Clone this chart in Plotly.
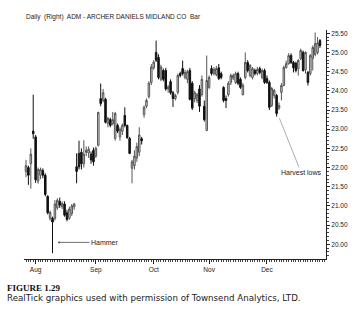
import plotly.graph_objects as go

# ---- data ----
month_names = ["Jul", "Aug", "Sep", "Oct", "Nov", "Dec"]
bars_in_month = [4, 25, 24, 23, 24, 23]

opens = [21.90, 22.00, 22.10, 22.95, 22.80, 21.65, 21.80, 21.92, 21.80, 21.25,
         20.68, 20.68, 20.68, 20.95, 21.12, 20.98, 21.05, 20.82, 20.68, 20.80,
         20.98, 22.02, 22.37, 22.40, 22.10, 22.40, 22.38, 22.35, 22.45, 22.30,
         22.58, 23.80, 23.75, 23.78, 23.15, 23.25, 23.15, 22.76, 23.10, 22.80,
         22.95, 23.36, 23.10, 22.76, 21.98, 22.05, 22.25, 22.40, 22.75, 23.38,
         23.60, 23.85, 24.22, 24.60, 25.00, 24.87, 24.30, 24.53, 24.53, 24.05,
         24.24, 23.95, 23.80, 23.96, 24.45, 24.58, 24.35, 24.30, 24.53, 24.20,
         23.80, 23.75, 24.05, 23.90, 23.60, 22.97, 24.09, 24.58, 24.45, 24.42,
         24.60, 24.45, 24.09, 23.80, 23.90, 24.22, 24.33, 24.22, 24.45, 24.30,
         23.90, 24.35, 24.74, 24.40, 24.35, 24.53, 24.45, 24.58, 24.35, 24.53,
         24.32, 24.22, 23.62, 23.88, 23.88, 23.55, 23.96, 24.14, 24.61, 24.71,
         24.92, 24.74, 24.72, 24.58, 24.84, 25.00, 24.55, 24.48, 24.45, 24.85,
         24.95, 25.00, 25.31]
highs = [22.20, 22.05, 22.50, 23.90, 22.85, 22.00, 22.00, 21.98, 21.85, 21.28,
         20.88, 20.72, 21.15, 21.20, 21.22, 21.12, 21.12, 20.90, 20.98, 21.05,
         21.08, 22.37, 22.70, 22.50, 22.71, 22.55, 22.55, 22.42, 22.52, 22.55,
         23.45, 24.19, 24.05, 23.82, 23.32, 23.30, 23.45, 23.45, 23.15, 23.05,
         23.15, 23.57, 23.12, 22.80, 22.20, 22.45, 22.65, 23.05, 22.80, 23.62,
         23.80, 24.25, 24.70, 24.80, 25.31, 24.95, 24.68, 24.58, 24.60, 24.15,
         24.30, 24.00, 23.92, 24.45, 24.50, 24.79, 24.55, 24.55, 24.60, 24.25,
         24.00, 23.95, 24.15, 24.40, 23.75, 24.92, 24.40, 24.66, 24.62, 24.65,
         24.70, 24.50, 24.12, 23.88, 24.25, 24.45, 24.45, 24.50, 24.50, 24.35,
         24.20, 25.00, 24.80, 24.70, 24.62, 24.58, 24.62, 24.63, 24.58, 24.58,
         24.40, 24.27, 24.10, 24.05, 23.92, 23.70, 24.20, 24.66, 24.79, 24.98,
         24.98, 24.78, 24.76, 24.83, 25.10, 25.05, 25.03, 24.52, 24.96, 25.18,
         25.52, 25.40, 25.35]
lows = [21.75, 21.55, 21.45, 22.75, 21.60, 21.58, 21.70, 21.72, 21.25, 20.78,
        20.62, 19.77, 20.62, 20.90, 20.95, 20.92, 20.72, 20.60, 20.64, 20.74,
        20.90, 21.59, 21.95, 21.95, 22.00, 22.30, 22.25, 22.10, 22.05, 22.25,
        22.55, 23.60, 23.70, 23.15, 23.05, 23.05, 23.10, 22.70, 22.90, 22.70,
        22.85, 23.05, 22.75, 22.35, 21.59, 21.95, 22.15, 22.30, 22.60, 23.30,
        23.55, 23.80, 24.15, 24.55, 24.75, 24.30, 24.25, 24.25, 24.00, 23.95,
        23.90, 23.58, 23.75, 23.90, 24.35, 24.40, 24.30, 24.20, 23.75, 23.50,
        23.70, 23.68, 23.45, 23.85, 23.20, 22.95, 24.05, 24.40, 24.40, 24.38,
        24.28, 24.30, 23.70, 23.55, 23.85, 24.15, 24.28, 24.18, 24.15, 24.05,
        23.88, 24.30, 24.48, 24.35, 24.30, 24.40, 24.40, 24.43, 24.30, 24.18,
        24.18, 23.50, 23.58, 23.80, 23.33, 23.50, 23.75, 24.12, 24.58, 24.68,
        24.70, 24.48, 24.48, 24.40, 24.80, 24.50, 24.45, 24.14, 24.40, 24.53,
        24.90, 24.95, 25.12]
closes = [22.05, 21.80, 22.35, 22.88, 21.68, 21.95, 21.95, 21.80, 21.30, 20.82,
          20.83, 20.58, 21.05, 21.15, 21.02, 21.06, 20.76, 20.65, 20.92, 21.00,
          21.05, 21.90, 22.02, 22.10, 22.35, 22.45, 22.48, 22.20, 22.15, 22.50,
          23.44, 23.67, 23.95, 23.18, 23.28, 23.10, 23.25, 23.41, 22.95, 23.00,
          23.10, 23.10, 22.78, 22.37, 22.15, 22.30, 22.55, 22.85, 22.70, 23.57,
          23.75, 24.20, 24.62, 24.75, 24.80, 24.35, 24.62, 24.30, 24.05, 24.10,
          23.95, 23.80, 23.88, 24.40, 24.40, 24.45, 24.48, 24.50, 23.78, 23.55,
          23.95, 23.90, 23.60, 24.30, 23.25, 24.27, 24.35, 24.45, 24.56, 24.58,
          24.32, 24.35, 23.75, 23.75, 24.20, 24.40, 24.40, 24.45, 24.20, 24.09,
          24.15, 24.74, 24.53, 24.66, 24.58, 24.45, 24.56, 24.48, 24.53, 24.22,
          24.22, 23.57, 24.06, 24.01, 23.41, 23.62, 24.14, 24.61, 24.71, 24.92,
          24.74, 24.60, 24.53, 24.79, 25.05, 24.53, 25.00, 24.22, 24.92, 25.13,
          25.23, 25.25, 25.18]
price_ticks = [20.0, 20.5, 21.0, 21.5, 22.0, 22.5, 23.0, 23.5, 24.0, 24.5, 25.0, 25.5]

title_text = "Daily  (Right)  ADM - ARCHER DANIELS MIDLAND CO  Bar"
fig_label = "FIGURE 1.29"
caption = "RealTick graphics used with permission of Townsend Analytics, LTD."

# ---- derived ----
n = len(closes)
xs = list(range(n))
month_starts = []
acc = 0
for cnt in bars_in_month:
    month_starts.append(acc)
    acc += cnt
tick_pos = month_starts[1:]
tick_txt = month_names[1:]

narrow = "Liberation Sans Narrow, Arial Narrow, Liberation Sans, sans-serif"

fig = go.Figure()
fig.add_trace(go.Candlestick(
    x=xs, open=opens, high=highs, low=lows, close=closes,
    increasing=dict(line=dict(color="#555555", width=1), fillcolor="#dcdcdc"),
    decreasing=dict(line=dict(color="#111111", width=1), fillcolor="#111111"),
    whiskerwidth=0, hoverinfo="skip", showlegend=False,
))

fig.update_layout(
    width=362, height=312,
    margin=dict(l=24, r=36, t=30, b=53),
    paper_bgcolor="white", plot_bgcolor="white",
    boxgap=0.1,
    showlegend=False,
    xaxis=dict(
        range=[-0.83, 124.5], rangeslider=dict(visible=False),
        showgrid=False, zeroline=False,
        showline=True, linecolor="#222", linewidth=1,
        tickmode="array", tickvals=tick_pos, ticktext=tick_txt,
        ticks="outside", ticklen=4, tickcolor="#222", tickwidth=1,
        minor=dict(tickmode="linear", tick0=0, dtick=1, ticks="outside",
                   ticklen=2, tickcolor="#444", tickwidth=0.6),
        tickfont=dict(family=narrow, size=6.5, color="#222"),
        fixedrange=True,
    ),
    yaxis=dict(
        side="right", range=[19.617, 25.586],
        showgrid=False, zeroline=False,
        showline=True, linecolor="#222", linewidth=1,
        tickmode="array", tickvals=price_ticks,
        ticktext=[f"{v:.2f}" for v in price_ticks],
        ticks="outside", ticklen=3, tickcolor="#222", tickwidth=1,
        minor=dict(tickmode="linear", tick0=20, dtick=0.1, ticks="outside",
                   ticklen=1.5, tickcolor="#444", tickwidth=0.6),
        tickfont=dict(family=narrow, size=6.5, color="#222"),
        fixedrange=True,
    ),
    annotations=[
        dict(text=title_text, xref="paper", yref="paper", x=0.0, y=1.057,
             xanchor="left", yanchor="middle", showarrow=False,
             font=dict(family=narrow, size=6.5, color="#222")),
        dict(text="Hammer", x=13.3, y=20.05, xref="x", yref="y",
             showarrow=True, ax=47, ay=0, arrowhead=1, arrowsize=0.7,
             arrowwidth=0.7, arrowcolor="#333", standoff=0,
             font=dict(family=narrow, size=7, color="#222")),
        dict(text="Harvest lows", x=105, y=23.31, xref="x", yref="y",
             showarrow=True, ax=22, ay=55, arrowhead=0, arrowwidth=0.7,
             arrowcolor="#888", standoff=1,
             font=dict(family=narrow, size=7, color="#222")),
        dict(text="<b>" + fig_label + "</b>", xref="paper", yref="paper",
             x=-0.062, y=-0.128, xanchor="left", yanchor="middle",
             showarrow=False,
             font=dict(family="Liberation Serif, serif", size=9, color="#111")),
        dict(text=caption, xref="paper", yref="paper",
             x=-0.062, y=-0.17, xanchor="left", yanchor="middle",
             showarrow=False,
             font=dict(family="DejaVu Sans, sans-serif", size=8.7, color="#222")),
    ],
)

fig.write_html("out.html")
